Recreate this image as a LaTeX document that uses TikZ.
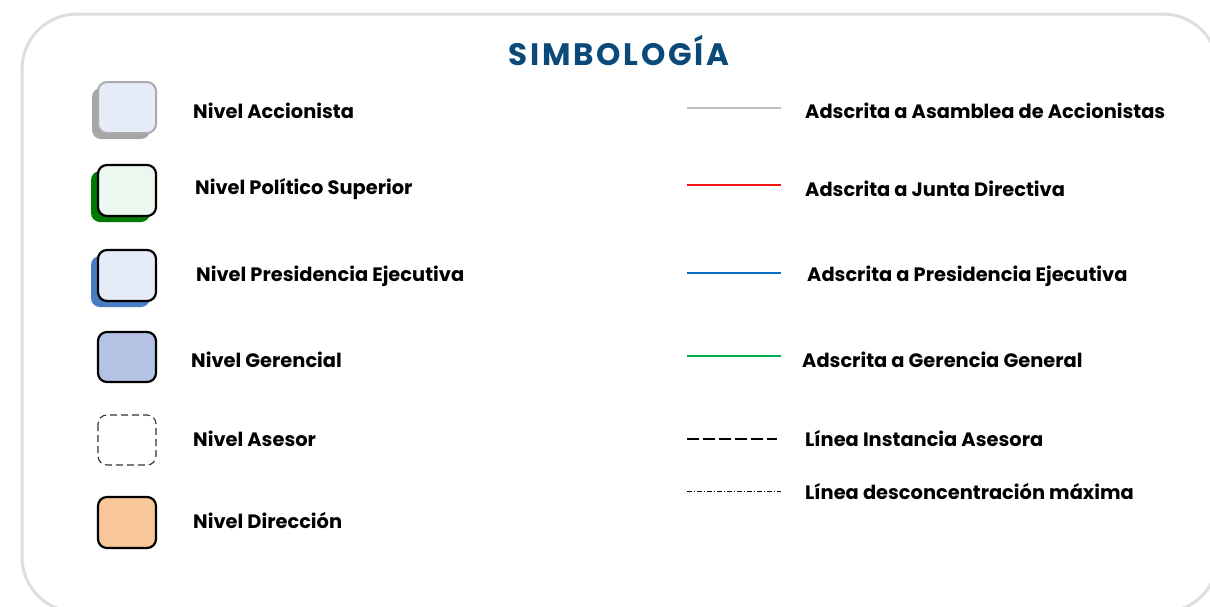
\documentclass[tikz,border=0pt]{standalone}
\usepackage{fontspec}
\setmainfont{Poppins}[BoldFont={Poppins Bold}]
\newfontfamily\titlefont{Poppins Bold}[LetterSpace=9]
\definecolor{titleblue}{HTML}{0B4A78}
\begin{document}
\begin{tikzpicture}[x=1pt,y=-1pt,
  lbl/.style={anchor=west,inner sep=0pt,font=\bfseries\fontsize{19.4}{21}\selectfont},
  front/.style={rounded corners=9pt,line width=2.2pt},
  shad/.style={rounded corners=9pt},
  legline/.style={line width=1.8pt}]
\useasboundingbox (0,0) rectangle (1210,606);
\begin{scope}
\clip (0,0) rectangle (1210,606);
\draw[line width=3pt,draw=black!13,rounded corners=55pt] (22,14) rectangle (1218,612);
\end{scope}
\node[inner sep=0pt,text=titleblue,font=\titlefont\fontsize{31}{34}\selectfont] (t) at (619,50) {SIMBOLOGÍA};
% boxes
\fill[shad,fill=black!35] (92,88) rectangle (150,139);
\draw[front,line width=2pt,draw=black!33,fill={rgb,255:red,230;green,236;blue,247}] (98,82) rectangle (156,133) node[midway] (b1) {};
\fill[shad,fill={rgb,255:red,0;green,122;blue,0}] (91,171) rectangle (150,222);
\draw[front,fill={rgb,255:red,236;green,247;blue,239}] (98,165) rectangle (156,216) node[midway] (b2) {};
\fill[shad,fill={rgb,255:red,74;green,124;blue,196}] (91,256) rectangle (150,307);
\draw[front,fill={rgb,255:red,230;green,236;blue,247}] (98,250) rectangle (156,301) node[midway] (b3) {};
\draw[front,fill={rgb,255:red,180;green,195;blue,228}] (98,332) rectangle (156,382) node[midway] (b4) {};
\draw[front,line width=1.1pt,dash pattern=on 7pt off 4pt,draw=black!80] (98,415) rectangle (156,465) node[midway] (b5) {};
\draw[front,fill={rgb,255:red,249;green,200;blue,154}] (98,497) rectangle (156,548) node[midway] (b6) {};
% left labels
\node[lbl] (l1) at (193,111) {Nivel Accionista};
\node[lbl] (l2) at (195,189) {Nivel Político Superior};
\node[lbl] (l3) at (196,276) {Nivel Presidencia Ejecutiva};
\node[lbl] (l4) at (191,360) {Nivel Gerencial};
\node[lbl] (l5) at (193,439) {Nivel Asesor};
\node[lbl] (l6) at (193,520) {Nivel Dirección};
% lines
\coordinate (a1) at (687,108); \coordinate (e1) at (781,108);
\coordinate (a2) at (687,185); \coordinate (e2) at (781,185);
\coordinate (a3) at (687,273); \coordinate (e3) at (781,273);
\coordinate (a4) at (687,356); \coordinate (e4) at (781,356);
\coordinate (a5) at (687,439); \coordinate (e5) at (777,439);
\coordinate (a6) at (687,491); \coordinate (e6) at (781,491);
\draw[legline,line width=1.4pt,draw=black!25] (a1) -- (e1);
\draw[legline,draw={rgb,255:red,240;green,20;blue,20}] (a2) -- (e2);
\draw[legline,draw={rgb,255:red,0;green,112;blue,192}] (a3) -- (e3);
\draw[legline,draw={rgb,255:red,0;green,176;blue,80}] (a4) -- (e4);
\draw[line width=1.7pt,dash pattern=on 12pt off 4pt] (a5) -- (e5);
\draw[line width=1pt,dash pattern=on 5pt off 2pt on 1pt off 2pt] (a6) -- (e6);
% right labels
\node[lbl] (r1) at (805,111) {Adscrita a Asamblea de Accionistas};
\node[lbl] (r2) at (805,189) {Adscrita a Junta Directiva};
\node[lbl] (r3) at (807,276) {Adscrita a Presidencia Ejecutiva};
\node[lbl] (r4) at (802,360) {Adscrita a Gerencia General};
\node[lbl] (r5) at (805,439) {Línea Instancia Asesora};
\node[lbl] (r6) at (805,491) {Línea desconcentración máxima};
\end{tikzpicture}
\end{document}
